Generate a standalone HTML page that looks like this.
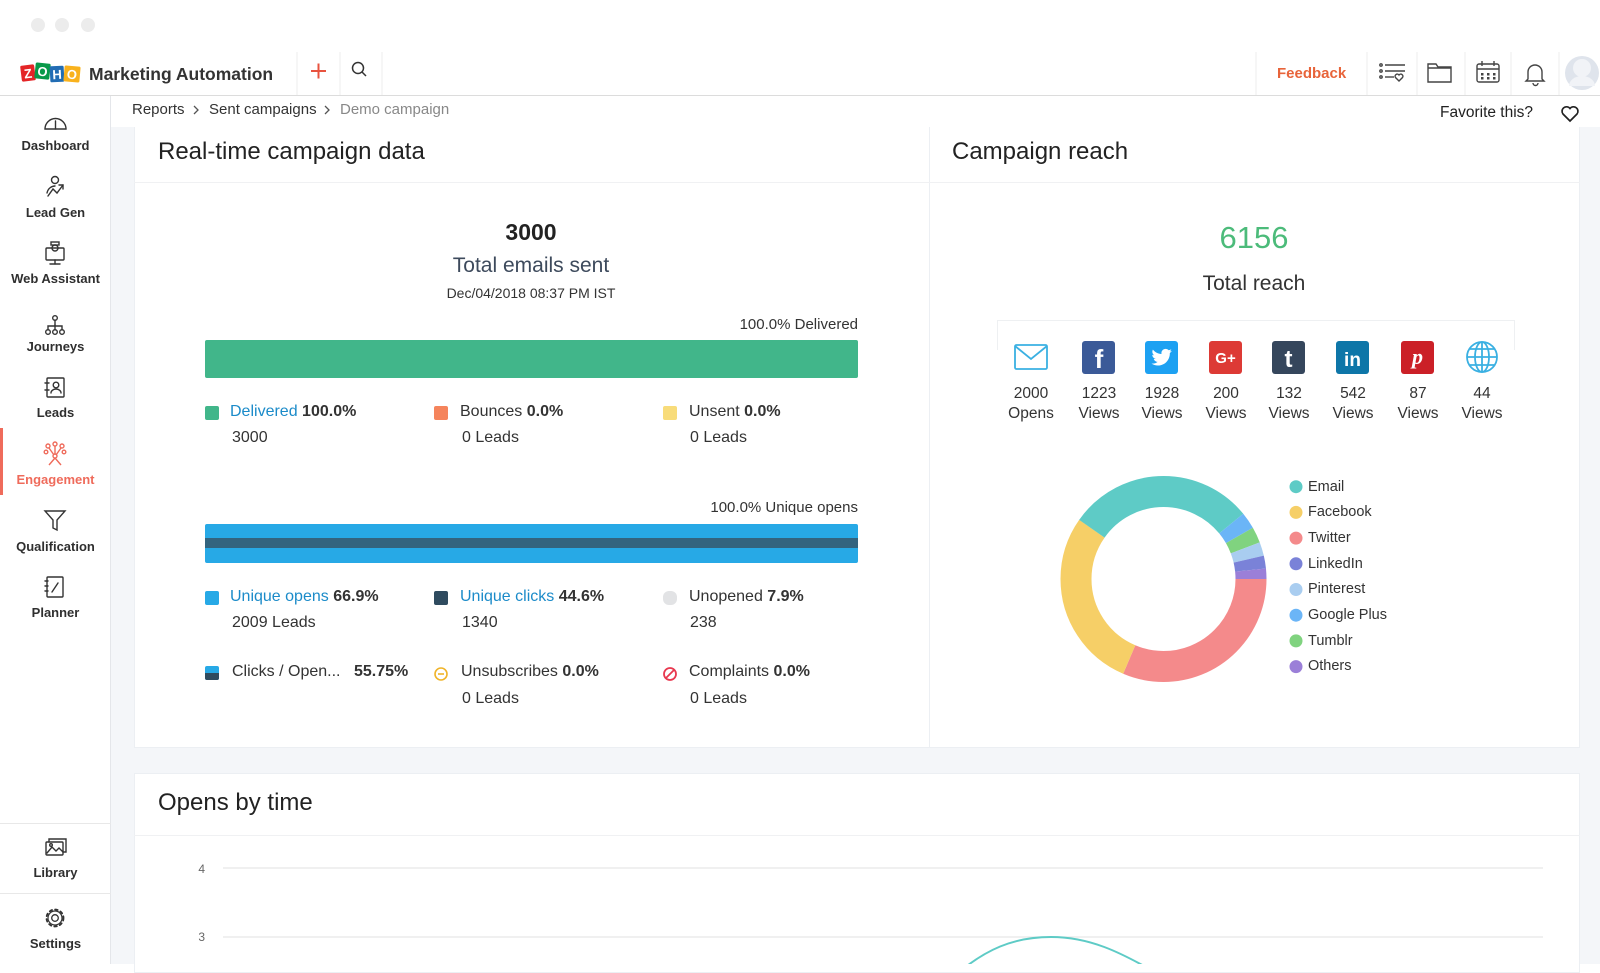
<!DOCTYPE html>
<html>
<head>
<meta charset="utf-8">
<style>
*{margin:0;padding:0;box-sizing:border-box}
html,body{width:1600px;height:964px;overflow:hidden;background:#fff;font-family:"Liberation Sans",Arial,sans-serif;color:#333}
.a{position:absolute}
.t{position:absolute;white-space:nowrap;line-height:20px;height:20px}
.sb{left:0;width:111px;text-align:center;font-size:13px;font-weight:bold;color:#2f2f2f}
.lg{font-size:16px;color:#333}
.lg b{font-weight:bold;color:#333}
.lk{color:#1b8bc9}
.num{font-size:15.5px;color:#333;width:60px;text-align:center}
.leg{font-size:14.5px;color:#333;left:1308px}
</style>
</head>
<body>
<!-- backgrounds -->
<div class="a" style="left:0;top:95px;width:1600px;height:1px;background:#dcdcdc"></div>
<div class="a" style="left:0;top:96px;width:111px;height:868px;background:#fff;border-right:1px solid #e4e6ea"></div>
<div class="a" style="left:111px;top:127px;width:1489px;height:837px;background:#f4f6f9"></div>
<div class="a" style="left:134px;top:127px;width:796px;height:621px;background:#fff;border:1px solid #eceff3;border-top:none"></div>
<div class="a" style="left:929px;top:127px;width:651px;height:621px;background:#fff;border:1px solid #eceff3;border-top:none"></div>
<div class="a" style="left:134px;top:182px;width:1446px;height:1px;background:#f0f1f3"></div>
<div class="a" style="left:134px;top:773px;width:1446px;height:200px;background:#fff;border:1px solid #eceff3"></div>
<div class="a" style="left:134px;top:835px;width:1446px;height:1px;background:#f0f1f3"></div>
<div class="a" style="left:0;top:823px;width:111px;height:1px;background:#e8e8e8"></div>
<div class="a" style="left:0;top:893px;width:111px;height:1px;background:#e8e8e8"></div>
<div class="a" style="left:0;top:428px;width:3px;height:67px;background:#ef6b5b"></div>
<!-- icon box on reach card -->
<div class="a" style="left:997px;top:320px;width:518px;height:30px;border:1px solid #eef0f2;border-bottom:none"></div>

<svg class="a" style="left:0;top:0" width="1600" height="964" viewBox="0 0 1600 964">
 <!-- traffic lights -->
 <circle cx="38" cy="25" r="7" fill="#ececec"/>
 <circle cx="62" cy="25" r="7" fill="#ececec"/>
 <circle cx="88" cy="25" r="7" fill="#ececec"/>
 <!-- logo -->
 <g font-family="Liberation Sans" font-weight="bold" font-size="13" fill="#fff" text-anchor="middle">
  <g transform="rotate(-7 28 73)"><rect x="21" y="65" width="14" height="16" rx="1.5" fill="#e42527"/><text x="28" y="78">Z</text></g>
  <g transform="rotate(6 42 71)"><rect x="35" y="63" width="15" height="16" rx="1.5" fill="#089949"/><text x="42.5" y="76">O</text></g>
  <g transform="rotate(-3 57 74)"><rect x="50" y="66" width="14" height="16" rx="1.5" fill="#226db4"/><text x="57" y="79">H</text></g>
  <g transform="rotate(5 72 74)"><rect x="64" y="66" width="16" height="16" rx="1.5" fill="#f9b21d"/><text x="72" y="79">O</text></g>
 </g>
 <!-- header separators -->
 <g stroke="#eeeeee" stroke-width="1">
  <line x1="297" y1="52" x2="297" y2="95"/><line x1="340" y1="52" x2="340" y2="95"/><line x1="382" y1="52" x2="382" y2="95"/>
  <line x1="1256" y1="52" x2="1256" y2="95"/><line x1="1367" y1="52" x2="1367" y2="95"/><line x1="1417" y1="52" x2="1417" y2="95"/>
  <line x1="1465" y1="52" x2="1465" y2="95"/><line x1="1511" y1="52" x2="1511" y2="95"/><line x1="1559" y1="52" x2="1559" y2="95"/>
 </g>
 <!-- plus & search -->
 <g stroke="#e8533f" stroke-width="2"><line x1="311" y1="71" x2="326" y2="71"/><line x1="318.5" y1="63.5" x2="318.5" y2="78.5"/></g>
 <g stroke="#333" stroke-width="1.5" fill="none"><circle cx="358" cy="68" r="5.5"/><line x1="362" y1="72" x2="366" y2="76"/></g>
 <!-- right header icons -->
 <g stroke="#444" stroke-width="1.4" fill="none">
  <circle cx="1381" cy="65" r="1.2"/><circle cx="1381" cy="71" r="1.2"/><circle cx="1381" cy="77" r="1.2"/>
  <line x1="1385" y1="65" x2="1405" y2="65"/><line x1="1385" y1="71" x2="1405" y2="71"/><line x1="1385" y1="77" x2="1394" y2="77"/>
  <path d="M1399 81 l-3.5 -3.5 a2 2 0 0 1 3.5 -2.5 a2 2 0 0 1 3.5 2.5 z"/>
  <path d="M1428 64 h8 l2 3 h13 v15 h-23 z"/><line x1="1428" y1="68" x2="1451" y2="68"/>
  <rect x="1477" y="64" width="22" height="18" rx="2"/><line x1="1477" y1="69" x2="1499" y2="69"/>
  <line x1="1482" y1="61" x2="1482" y2="66"/><line x1="1494" y1="61" x2="1494" y2="66"/>
  <path d="M1528 79 v-7 a7 7 0 0 1 14 0 v7 l2 2 h-18 z"/><path d="M1533 83 a2.5 2.5 0 0 0 5 0"/>
 </g>
 <g fill="#444"><rect x="1481" y="73" width="2.5" height="2.5"/><rect x="1487" y="73" width="2.5" height="2.5"/><rect x="1493" y="73" width="2.5" height="2.5"/><rect x="1481" y="77" width="2.5" height="2.5"/><rect x="1487" y="77" width="2.5" height="2.5"/><rect x="1493" y="77" width="2.5" height="2.5"/></g>
 <circle cx="1582" cy="73" r="17" fill="#dfe4ec"/><circle cx="1582" cy="68" r="9" fill="#f1f3f7"/><path d="M1569 86 a13 10 0 0 1 26 0" fill="#f1f3f7"/>
 <!-- breadcrumb chevrons -->
 <g stroke="#555" stroke-width="1.3" fill="none"><polyline points="194,106 198,110 194,114"/><polyline points="325,106 329,110 325,114"/></g>
 <!-- favorite heart -->
 <path d="M1570 121 l-7 -7 a4.2 4.2 0 0 1 7 -5.5 a4.2 4.2 0 0 1 7 5.5 z" fill="none" stroke="#222" stroke-width="1.7"/>

 <!-- sidebar icons -->
 <g stroke="#333" stroke-width="1.4" fill="none" stroke-linecap="round">
  <path d="M45 129 A10.5 10.5 0 1 1 66 129 Z"/><line x1="55.5" y1="129" x2="55.5" y2="121"/>
  <circle cx="55" cy="180" r="3.5"/><path d="M47 193 c1-5 5-7 8-7"/><polyline points="48,196 53,189 57,193 63,185"/><polyline points="59,185 63,185 63,189"/>
  <rect x="46" y="248" width="18" height="12" rx="1"/><line x1="55" y1="260" x2="55" y2="264"/><line x1="50" y1="264" x2="60" y2="264"/><circle cx="55" cy="248" r="3"/><rect x="51" y="242" width="8" height="3"/>
  <circle cx="55" cy="318" r="2.3"/><line x1="55" y1="320" x2="55" y2="325"/><path d="M48 330 v-4 h14 v4"/><line x1="55" y1="325" x2="55" y2="330"/>
  <circle cx="48" cy="332" r="2.3"/><circle cx="55" cy="332" r="2.3"/><circle cx="62" cy="332" r="2.3"/>
  <rect x="47" y="378" width="17" height="19" rx="1"/><circle cx="56" cy="385" r="2.8"/><path d="M51 393 a5 4 0 0 1 10 0"/><line x1="45" y1="383" x2="49" y2="383"/><line x1="45" y1="390" x2="49" y2="390"/>
  <path d="M45 511 h20 l-8 9 v10 l-4 -2 v-8 z"/>
  <rect x="47" y="577" width="16" height="20" rx="1"/><line x1="45" y1="581" x2="48" y2="581"/><line x1="45" y1="586" x2="48" y2="586"/><line x1="45" y1="591" x2="48" y2="591"/><line x1="52" y1="592" x2="58" y2="583"/>
  <rect x="46" y="842" width="17" height="13" rx="1"/><path d="M49 842 v-3 h17 v13 h-3"/><polyline points="47,853 52,847 56,851 59,848 63,852"/><circle cx="51" cy="845" r="1.3"/>
  <circle cx="55" cy="918" r="3.3" stroke-width="1.3"/><circle cx="55" cy="918" r="8.5" stroke-dasharray="2.6 3.1" stroke-width="1.8"/><circle cx="55" cy="918" r="7" stroke-width="1.2"/>
 </g>
 <g stroke="#ef6b5b" stroke-width="1.4" fill="none">
  <circle cx="55" cy="456" r="2"/><circle cx="48" cy="446" r="2"/><circle cx="55" cy="444" r="2"/><circle cx="62" cy="446" r="2"/><circle cx="46" cy="452" r="1.8"/><circle cx="64" cy="452" r="1.8"/>
  <line x1="55" y1="458" x2="49" y2="465"/><line x1="55" y1="458" x2="61" y2="465"/><line x1="55" y1="454" x2="55" y2="446"/><line x1="54" y1="455" x2="49" y2="448"/><line x1="56" y1="455" x2="61" y2="448"/>
 </g>

 <!-- left card bars -->
 <rect x="205" y="340" width="653" height="38" rx="2" fill="#41b68a"/>
 <rect x="205" y="524" width="653" height="39" rx="2" fill="#27a9e6"/>
 <rect x="205" y="538" width="653" height="10" fill="#33647f"/>
 <!-- legend markers -->
 <rect x="205" y="406" width="14" height="14" rx="2" fill="#41b68a"/>
 <rect x="434" y="406" width="14" height="14" rx="2" fill="#f5845c"/>
 <rect x="663" y="406" width="14" height="14" rx="2" fill="#f8dc7a"/>
 <rect x="205" y="591" width="14" height="14" rx="2" fill="#27a9e6"/>
 <rect x="434" y="591" width="14" height="14" rx="2" fill="#2f4b5f"/>
 <rect x="663" y="591" width="14" height="14" rx="6" fill="#e2e3e5"/>
 <rect x="205" y="666" width="14" height="14" rx="2" fill="#27a9e6"/>
 <path d="M205 673 h14 v5 a2 2 0 0 1 -2 2 h-10 a2 2 0 0 1 -2 -2 z" fill="#2f4b5f"/>
 <circle cx="441" cy="674" r="6" fill="none" stroke="#f0b429" stroke-width="1.6"/><line x1="438" y1="674" x2="444" y2="674" stroke="#f0b429" stroke-width="1.6"/>
 <circle cx="670" cy="674" r="6" fill="none" stroke="#e8384f" stroke-width="1.8"/><line x1="666" y1="678" x2="674" y2="670" stroke="#e8384f" stroke-width="1.8"/>

 <!-- reach icons -->
 <g fill="none" stroke="#3ab0e2" stroke-width="1.8">
  <rect x="1015" y="345" width="32" height="24" rx="1.5"/><polyline points="1015,346 1031,359 1047,346"/>
  <circle cx="1482" cy="357" r="15"/><ellipse cx="1482" cy="357" rx="7" ry="15"/><line x1="1482" y1="342" x2="1482" y2="372"/>
  <line x1="1467" y1="357" x2="1497" y2="357"/><path d="M1470 349 h24 M1470 365 h24"/>
 </g>
 <rect x="1082" y="341" width="33" height="33" rx="3" fill="#3b5a98"/>
 <rect x="1145" y="341" width="33" height="33" rx="3" fill="#1da1f2"/>
 <rect x="1209" y="341" width="33" height="33" rx="3" fill="#dd3a35"/>
 <rect x="1272" y="341" width="33" height="33" rx="3" fill="#35465c"/>
 <rect x="1336" y="341" width="33" height="33" rx="3" fill="#0e76a8"/>
 <rect x="1401" y="341" width="33" height="33" rx="3" fill="#cb2027"/>
 <path transform="translate(1151.5 347) scale(0.85)" fill="#fff" d="M23.954 4.569c-.885.389-1.830.654-2.825.775 1.014-.611 1.794-1.574 2.163-2.723-.951.555-2.005.959-3.127 1.184-.896-.959-2.173-1.559-3.591-1.559-2.717 0-4.920 2.203-4.920 4.917 0 .390.045.765.127 1.124C7.691 8.094 4.066 6.130 1.640 3.161c-.427.722-.666 1.561-.666 2.475 0 1.710.870 3.213 2.188 4.096-.807-.026-1.566-.248-2.228-.616v.061c0 2.385 1.693 4.374 3.946 4.827-.413.111-.849.171-1.296.171-.314 0-.615-.030-.916-.086.631 1.953 2.445 3.377 4.604 3.417-1.680 1.319-3.809 2.105-6.102 2.105-.390 0-.779-.023-1.170-.067 2.189 1.394 4.768 2.209 7.557 2.209 9.054 0 13.999-7.496 13.999-13.986 0-.209 0-.420-.015-.630.961-.689 1.800-1.560 2.460-2.548l-.047-.020z"/>
 <g font-family="Liberation Sans" font-weight="bold" fill="#fff" text-anchor="middle">
  <text x="1099" y="368" font-size="26">f</text>
  <text x="1225.5" y="363" font-size="15">G+</text>
  <text x="1288.5" y="367" font-size="24">t</text>
  <text x="1352.5" y="366" font-size="19">in</text>
  <text x="1417.5" y="364" font-size="22" font-family="Liberation Serif" font-style="italic">p</text>
 </g>

 <!-- donut -->
 <g fill="none" stroke-width="31">
  <circle cx="1163.5" cy="579" r="87.5" stroke="#f48a8b" stroke-dasharray="172.6 700" stroke-dashoffset="0"/>
  <circle cx="1163.5" cy="579" r="87.5" stroke="#f6cf67" stroke-dasharray="155.8 700" stroke-dashoffset="-172.6"/>
  <circle cx="1163.5" cy="579" r="87.5" stroke="#5ecbc6" stroke-dasharray="161.3 700" stroke-dashoffset="-328.3"/>
  <circle cx="1163.5" cy="579" r="87.5" stroke="#6bb5f7" stroke-dasharray="14.4 700" stroke-dashoffset="-489.6"/>
  <circle cx="1163.5" cy="579" r="87.5" stroke="#80d37f" stroke-dasharray="13.7 700" stroke-dashoffset="-504.0"/>
  <circle cx="1163.5" cy="579" r="87.5" stroke="#a9cdf0" stroke-dasharray="11.8 700" stroke-dashoffset="-517.7"/>
  <circle cx="1163.5" cy="579" r="87.5" stroke="#7a82d8" stroke-dasharray="11.1 700" stroke-dashoffset="-529.5"/>
  <circle cx="1163.5" cy="579" r="87.5" stroke="#9b7fd8" stroke-dasharray="9.3 700" stroke-dashoffset="-540.6"/>
 </g>
 <circle cx="1296" cy="486.7" r="6.5" fill="#5ecbc6"/>
 <circle cx="1296" cy="512.4" r="6.5" fill="#f6cf67"/>
 <circle cx="1296" cy="538.1" r="6.5" fill="#f48a8b"/>
 <circle cx="1296" cy="563.8" r="6.5" fill="#7a82d8"/>
 <circle cx="1296" cy="589.5" r="6.5" fill="#a9cdf0"/>
 <circle cx="1296" cy="615.2" r="6.5" fill="#6bb5f7"/>
 <circle cx="1296" cy="640.9" r="6.5" fill="#80d37f"/>
 <circle cx="1296" cy="666.6" r="6.5" fill="#9b7fd8"/>

 <!-- bottom chart -->
 <line x1="223" y1="868" x2="1543" y2="868" stroke="#e8e8e8" stroke-width="1.2"/>
 <line x1="223" y1="937" x2="1543" y2="937" stroke="#e8e8e8" stroke-width="1.2"/>
 <path d="M950 980 C985 948, 1015 937, 1051 937 C1088 937, 1118 950, 1165 978" fill="none" stroke="#5ecbc6" stroke-width="2"/>
</svg>

<!-- header text -->
<div class="t" style="left:89px;top:64px;font-size:17.5px;font-weight:bold;color:#333">Marketing Automation</div>
<div class="t" style="left:1277px;top:64px;font-size:15px;font-weight:bold;color:#e8643a">Feedback</div>
<!-- breadcrumb -->
<div class="t" style="left:132px;top:100px;font-size:15px;color:#333">Reports</div>
<div class="t" style="left:209px;top:100px;font-size:15px;color:#333">Sent campaigns</div>
<div class="t" style="left:340px;top:100px;font-size:15px;color:#888">Demo campaign</div>
<div class="t" style="left:1440px;top:103px;font-size:15.5px;color:#222">Favorite this?</div>

<!-- sidebar labels -->
<div class="t sb" style="top:136px">Dashboard</div>
<div class="t sb" style="top:203px">Lead Gen</div>
<div class="t sb" style="top:269px">Web Assistant</div>
<div class="t sb" style="top:337px">Journeys</div>
<div class="t sb" style="top:403px">Leads</div>
<div class="t sb" style="top:470px;color:#ef6b5b">Engagement</div>
<div class="t sb" style="top:537px">Qualification</div>
<div class="t sb" style="top:603px">Planner</div>
<div class="t sb" style="top:863px">Library</div>
<div class="t sb" style="top:934px">Settings</div>

<!-- card titles -->
<div class="t" style="left:158px;top:138px;height:28px;line-height:28px;font-size:24px;color:#222">Real-time campaign data</div>
<div class="t" style="left:952px;top:138px;height:28px;line-height:28px;font-size:24px;color:#222">Campaign reach</div>
<div class="t" style="left:158px;top:789px;height:28px;line-height:28px;font-size:24px;color:#222">Opens by time</div>

<!-- left card text -->
<div class="t" style="left:331px;top:218px;width:400px;height:28px;line-height:28px;text-align:center;font-size:23px;font-weight:bold;color:#222">3000</div>
<div class="t" style="left:331px;top:253px;width:400px;height:26px;line-height:26px;text-align:center;font-size:21px;color:#3d4a5c">Total emails sent</div>
<div class="t" style="left:331px;top:283px;width:400px;text-align:center;font-size:14px;color:#333">Dec/04/2018 08:37 PM IST</div>
<div class="t" style="left:558px;top:315px;width:300px;text-align:right;font-size:15px;color:#333">100.0% Delivered</div>
<div class="t" style="left:558px;top:498px;width:300px;text-align:right;font-size:15px;color:#333">100.0% Unique opens</div>

<div class="t lg" style="left:230px;top:402px"><span class="lk">Delivered</span> <b>100.0%</b></div>
<div class="t lg" style="left:232px;top:428px">3000</div>
<div class="t lg" style="left:460px;top:402px">Bounces <b>0.0%</b></div>
<div class="t lg" style="left:462px;top:428px">0 Leads</div>
<div class="t lg" style="left:689px;top:402px">Unsent <b>0.0%</b></div>
<div class="t lg" style="left:690px;top:428px">0 Leads</div>

<div class="t lg" style="left:230px;top:587px"><span class="lk">Unique opens</span> <b>66.9%</b></div>
<div class="t lg" style="left:232px;top:613px">2009 Leads</div>
<div class="t lg" style="left:460px;top:587px"><span class="lk">Unique clicks</span> <b>44.6%</b></div>
<div class="t lg" style="left:462px;top:613px">1340</div>
<div class="t lg" style="left:689px;top:587px">Unopened <b>7.9%</b></div>
<div class="t lg" style="left:690px;top:613px">238</div>

<div class="t lg" style="left:232px;top:662px">Clicks / Open...</div>
<div class="t lg" style="left:354px;top:662px"><b>55.75%</b></div>
<div class="t lg" style="left:461px;top:662px">Unsubscribes <b>0.0%</b></div>
<div class="t lg" style="left:462px;top:689px">0 Leads</div>
<div class="t lg" style="left:689px;top:662px">Complaints <b>0.0%</b></div>
<div class="t lg" style="left:690px;top:689px">0 Leads</div>

<!-- right card text -->
<div class="t" style="left:1154px;top:220px;width:200px;height:36px;line-height:36px;text-align:center;font-size:31px;color:#4cbb7a">6156</div>
<div class="t" style="left:1154px;top:271px;width:200px;height:26px;line-height:26px;text-align:center;font-size:21px;color:#333">Total reach</div>

<div class="t num" style="left:1001px;top:384px">2000</div><div class="t num" style="left:1001px;top:404px">Opens</div>
<div class="t num" style="left:1069px;top:384px">1223</div><div class="t num" style="left:1069px;top:404px">Views</div>
<div class="t num" style="left:1132px;top:384px">1928</div><div class="t num" style="left:1132px;top:404px">Views</div>
<div class="t num" style="left:1196px;top:384px">200</div><div class="t num" style="left:1196px;top:404px">Views</div>
<div class="t num" style="left:1259px;top:384px">132</div><div class="t num" style="left:1259px;top:404px">Views</div>
<div class="t num" style="left:1323px;top:384px">542</div><div class="t num" style="left:1323px;top:404px">Views</div>
<div class="t num" style="left:1388px;top:384px">87</div><div class="t num" style="left:1388px;top:404px">Views</div>
<div class="t num" style="left:1452px;top:384px">44</div><div class="t num" style="left:1452px;top:404px">Views</div>

<div class="t leg" style="top:477px">Email</div>
<div class="t leg" style="top:502px">Facebook</div>
<div class="t leg" style="top:528px">Twitter</div>
<div class="t leg" style="top:554px">LinkedIn</div>
<div class="t leg" style="top:579px">Pinterest</div>
<div class="t leg" style="top:605px">Google Plus</div>
<div class="t leg" style="top:631px">Tumblr</div>
<div class="t leg" style="top:656px">Others</div>

<!-- axis labels -->
<div class="t" style="left:185px;top:859px;width:20px;text-align:right;font-size:12px;color:#666">4</div>
<div class="t" style="left:185px;top:927px;width:20px;text-align:right;font-size:12px;color:#666">3</div>
</body>
</html>
